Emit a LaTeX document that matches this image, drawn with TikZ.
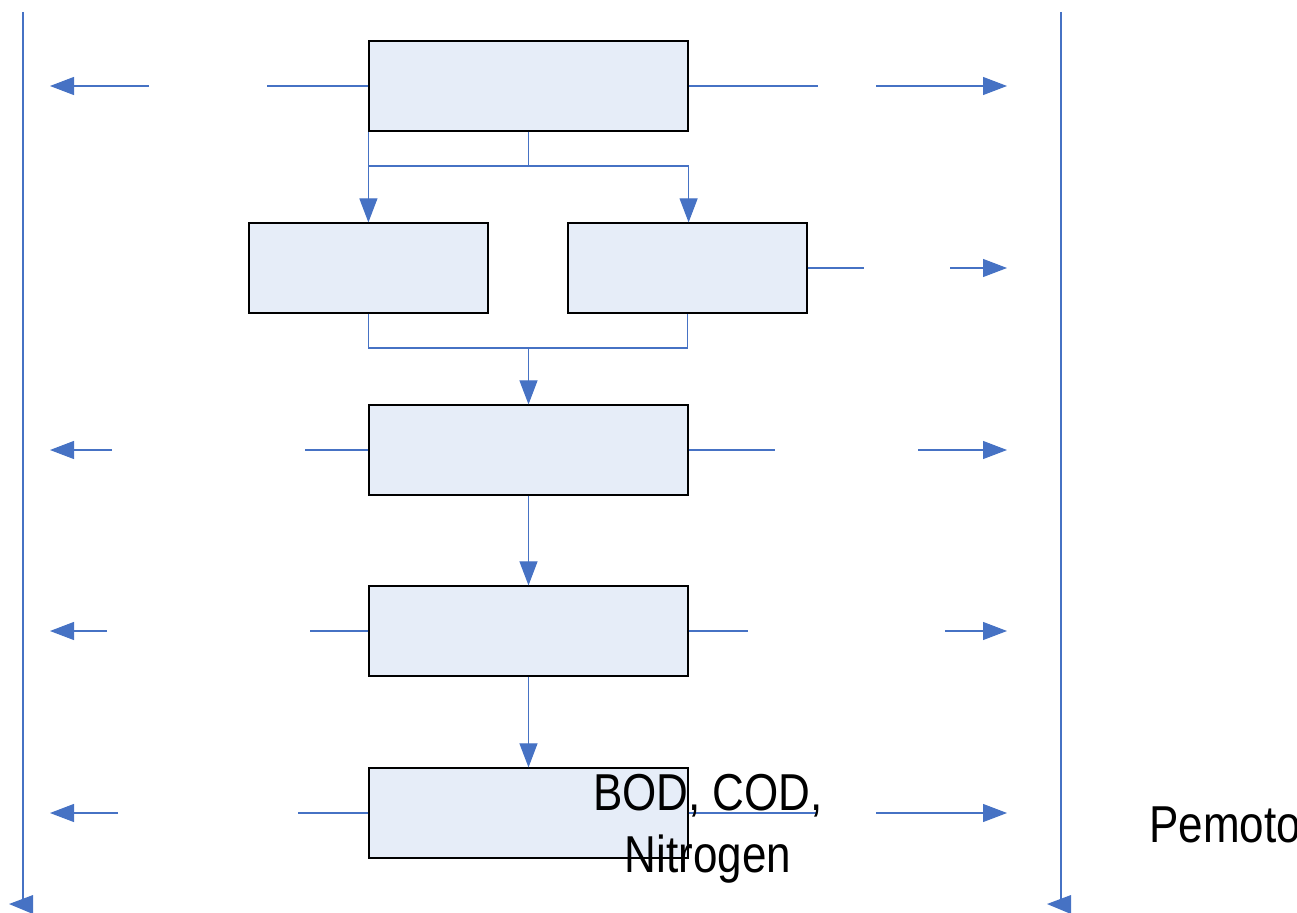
\documentclass[tikz,border=0pt]{standalone}
\usepackage{fontspec}
\setmainfont{Liberation Sans}
\usetikzlibrary{arrows.meta}
\definecolor{flowblue}{RGB}{70,114,196}
\definecolor{boxfill}{RGB}{230,237,248}
\tikzset{
  stage/.style={draw=black, fill=boxfill, line width=1.2pt, minimum width=319pt, minimum height=90pt, inner sep=0pt},
  narrowstage/.style={stage, minimum width=239pt},
  link/.style={draw=flowblue, line width=1.1pt},
  flow/.style={link, -{Triangle[length=24pt,width=18pt]}},
  bigtext/.style={anchor=base, inner sep=0pt, font=\fontsize{44}{52}\selectfont}
}
\begin{document}
\begin{tikzpicture}[x=1pt,y=-1pt]
\useasboundingbox (0,0) rectangle (1297,912);

% process stages
\node[stage] (top) at (528.5,86) {};
\node[narrowstage] (left2) at (368.5,268) {};
\node[narrowstage] (right2) at (687.5,268) {};
\node[stage] (mid) at (528.5,450) {};
\node[stage] (fourth) at (528.5,631) {};
\node[stage] (fifth) at (528.5,813) {};

% split below the first stage
\coordinate (busA) at (528.5,166);
\draw[link] (top.south) -- (busA);
\draw[flow] (top.south west) -- (top.south west |- left2.north);
\draw[link] (top.south west |- busA) -- (top.south east |- busA);
\draw[flow] (top.south east |- busA) -- (top.south east |- right2.north);

% merge into the middle stage
\coordinate (busB) at (528.5,348);
\draw[link] (left2.south) -- (left2.south |- busB) -- (right2.south |- busB) -- (right2.south);
\draw[flow] (busB) -- (mid.north);

% main line down
\draw[flow] (mid.south) -- (fourth.north);
\draw[flow] (fourth.south) -- (fifth.north);

% side outputs, row 1
\coordinate (l1a) at (267,86);  \coordinate (l1b) at (149,86);  \coordinate (l1t) at (50,86);
\coordinate (r1a) at (818,86);  \coordinate (r1b) at (876,86);  \coordinate (r1t) at (1007,86);
\draw[link] (top.west) -- (l1a);  \draw[flow] (l1b) -- (l1t);
\draw[link] (top.east) -- (r1a);  \draw[flow] (r1b) -- (r1t);

% row 2
\coordinate (r2a) at (864,268); \coordinate (r2b) at (950,268); \coordinate (r2t) at (1007,268);
\draw[link] (right2.east) -- (r2a); \draw[flow] (r2b) -- (r2t);

% row 3
\coordinate (l3a) at (305,450); \coordinate (l3b) at (112,450); \coordinate (l3t) at (50,450);
\coordinate (r3a) at (775,450); \coordinate (r3b) at (918,450); \coordinate (r3t) at (1007,450);
\draw[link] (mid.west) -- (l3a);  \draw[flow] (l3b) -- (l3t);
\draw[link] (mid.east) -- (r3a);  \draw[flow] (r3b) -- (r3t);

% row 4
\coordinate (l4a) at (310,631); \coordinate (l4b) at (107,631); \coordinate (l4t) at (50,631);
\coordinate (r4a) at (748,631); \coordinate (r4b) at (945,631); \coordinate (r4t) at (1007,631);
\draw[link] (fourth.west) -- (l4a);  \draw[flow] (l4b) -- (l4t);
\draw[link] (fourth.east) -- (r4a);  \draw[flow] (r4b) -- (r4t);

% row 5
\coordinate (l5a) at (298,813); \coordinate (l5b) at (118,813); \coordinate (l5t) at (50,813);
\coordinate (r5a) at (817,813); \coordinate (r5b) at (876,813); \coordinate (r5t) at (1007,813);
\draw[link] (fifth.west) -- (l5a);  \draw[flow] (l5b) -- (l5t);
\draw[link] (fifth.east) -- (r5a);  \draw[flow] (r5b) -- (r5t);

% vertical collectors
\coordinate (vl1) at (23,12);   \coordinate (vl2) at (23,900);
\coordinate (vr1) at (1061,12); \coordinate (vr2) at (1061,900);
\draw[link] (vl1) -- (vl2);
\draw[link] (vr1) -- (vr2);
\fill[flowblue] (33,895) -- (9,904) -- (33,914) -- cycle;
\fill[flowblue] (1071,895) -- (1047,904) -- (1071,914) -- cycle;

% labels
\node[bigtext] (bodtext) at (708,810) {\scalebox{1}[1.18]{BOD, COD,}};
\node[bigtext] (nitrotext) at (708,872) {\scalebox{1}[1.18]{Nitrogen}};
\node[bigtext, anchor=base west] (cuttext) at (1149,842) {\scalebox{1}[1.18]{Pemoto}};
\end{tikzpicture}
\end{document}
